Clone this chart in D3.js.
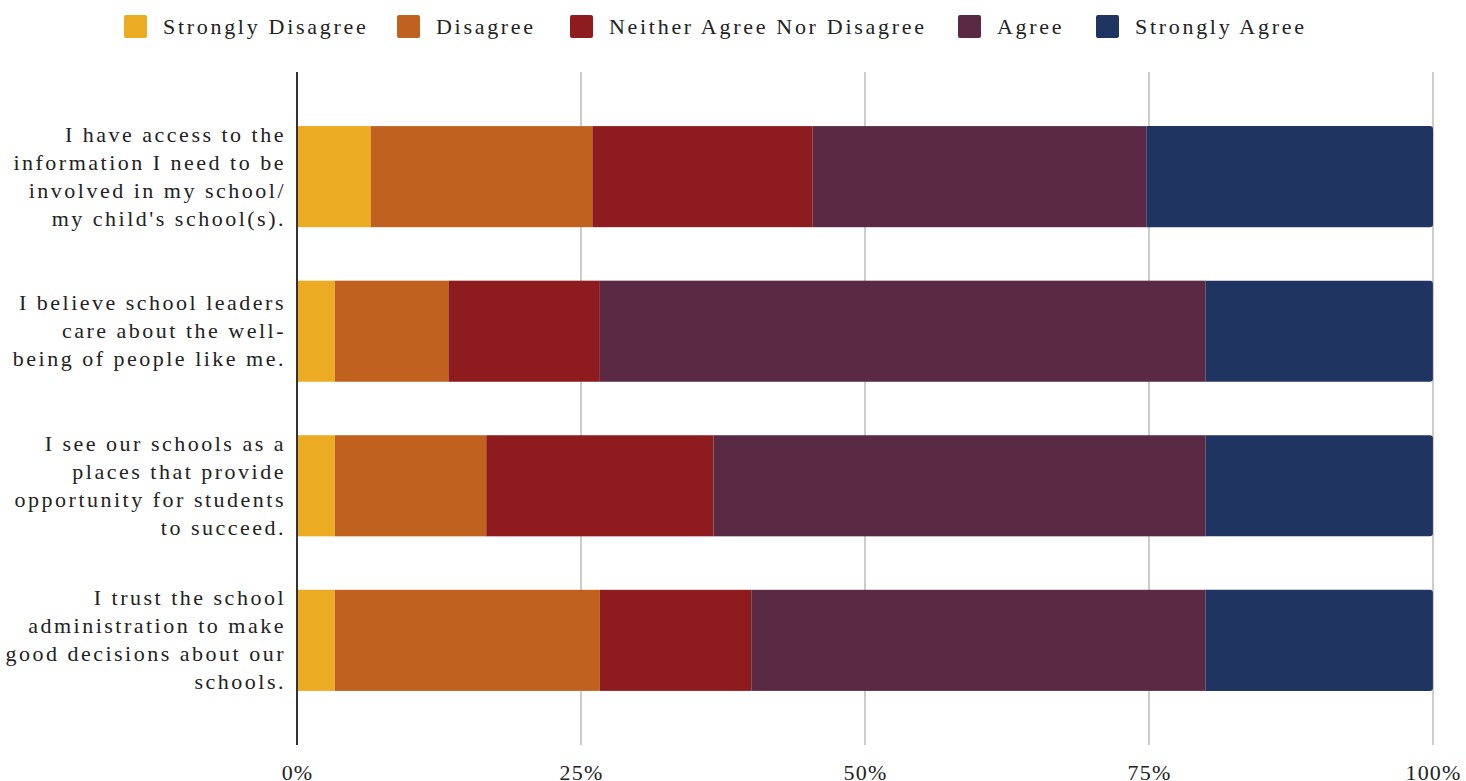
<!DOCTYPE html>
<html><head><meta charset="utf-8">
<script src="https://cdn.jsdelivr.net/npm/d3@7"></script>
<style>body{margin:0;background:#fff}svg{display:block}text{font-family:"Liberation Serif",serif;fill:#222}</style>
</head><body>
<svg id="c" width="1466" height="781"></svg>
<script>
const categories = [
  ["I have access to the","information I need to be","involved in my school/","my child's school(s)."],
  ["I believe school leaders","care about the well-","being of people like me."],
  ["I see our schools as a","places that provide","opportunity for students","to succeed."],
  ["I trust the school","administration to make","good decisions about our","schools."]
];
const seriesNames = ["Strongly Disagree","Disagree","Neither Agree Nor Disagree","Agree","Strongly Agree"];
const colors = ["#EBAB22","#C0611F","#8E1B1E","#5A2943","#1F3461"];
const stronglyDisagree = [6.5, 3.33, 3.33, 3.33];
const disagree = [19.5, 10.0, 13.33, 23.33];
const neither = [19.4, 13.33, 20.0, 13.33];
const agree = [29.4, 53.33, 43.33, 40.0];
const stronglyAgree = [25.2, 20.0, 20.0, 20.0];
const tickValues = [0, 25, 50, 75, 100];

const svg = d3.select("#c");
const x = d3.scaleLinear().domain([0,100]).range([297,1433]);
const y = d3.scaleBand().domain(d3.range(categories.length)).range([72,745]).paddingInner(0.346).paddingOuter(0.35);

// grid
svg.append("g").selectAll("line").data(tickValues.filter(d=>d>0)).join("line")
  .attr("x1",d=>x(d)).attr("x2",d=>x(d)).attr("y1",72).attr("y2",745)
  .attr("stroke","#cccccc").attr("stroke-width",2);

const rows = categories.map((c,i)=>[stronglyDisagree[i],disagree[i],neither[i],agree[i],stronglyAgree[i]]);
const stacked = rows.map((r,i)=>{let acc=0;return r.map((v,k)=>{const s={i,k,x0:acc,x1:acc+v};acc+=v;return s;});});
const g = svg.append("g");
stacked.forEach(segs=>{
  segs.forEach(s=>{
    const last = s.k===segs.length-1;
    const x0=x(s.x0), x1=x(Math.min(s.x1,100)), y0=y(s.i), h=y.bandwidth(), r=3;
    if(last){
      g.append("path").attr("fill",colors[s.k])
        .attr("d",`M${x0},${y0}H${x1-r}Q${x1},${y0} ${x1},${y0+r}V${y0+h-r}Q${x1},${y0+h} ${x1-r},${y0+h}H${x0}Z`);
    } else {
      g.append("rect").attr("x",x0).attr("y",y0).attr("width",x1-x0).attr("height",h).attr("fill",colors[s.k]);
    }
  });
});

// axis line
svg.append("line").attr("x1",x(0)).attr("x2",x(0)).attr("y1",72).attr("y2",745).attr("stroke","#333").attr("stroke-width",2);

// tick labels
const xAxis = d3.axisBottom(x).tickValues(tickValues).tickFormat(d=>d+"%").tickSize(0).tickPadding(0);
const ax = svg.append("g").attr("transform","translate(0,764)").call(xAxis);
ax.select(".domain").remove();
ax.selectAll("text").attr("font-size",22).attr("letter-spacing",1.2).attr("fill","#222").style("font-family","Liberation Serif, serif");

// category labels
categories.forEach((lines,i)=>{
  const cy = y(i)+y.bandwidth()/2;
  const lh = 28;
  const t = svg.append("text").attr("text-anchor","end").attr("font-size",22).attr("letter-spacing",2.5);
  lines.forEach((ln,j)=>{
    t.append("tspan").attr("x",286).attr("y",cy+(j-(lines.length-1)/2)*lh+7).text(ln);
  });
});

// legend
const legX = [124,397,570,958,1096];
seriesNames.forEach((n,k)=>{
  svg.append("rect").attr("x",legX[k]).attr("y",15).attr("width",23).attr("height",23).attr("rx",2).attr("fill",colors[k]);
  svg.append("text").attr("x",legX[k]+39).attr("y",34).attr("font-size",22).attr("letter-spacing",2.7).text(n);
});
</script>
</body></html>
